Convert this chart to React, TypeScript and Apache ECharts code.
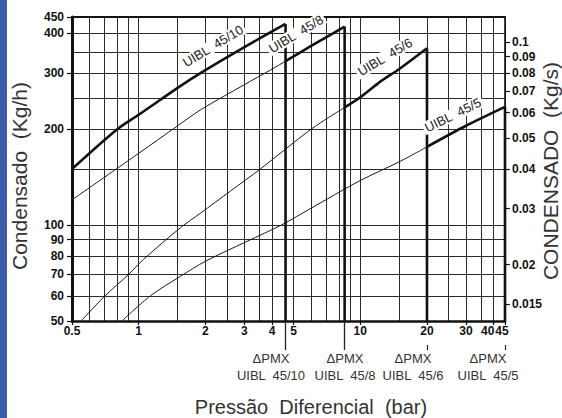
import React, { useEffect, useRef } from "react";
import * as echarts from "echarts";

// ---- axis ranges ----
const xRange = [0.5, 45]; // Pressão diferencial (bar), log
const yRange = [50, 450]; // Condensado (Kg/h), log
const kgsRange = [0.01331, 0.1198]; // Condensado (Kg/s), log (right scale)

// ---- ticks / grid ----
const xTickValues = [0.5, 1, 2, 3, 4, 5, 10, 20, 30, 40, 45];
const xGridValues = [0.5, 0.6, 0.7, 0.8, 0.9, 1, 1.5, 2, 2.5, 3, 3.5, 4, 5, 6, 7, 8, 9, 10, 15, 20, 25, 30, 35, 40, 45];
const yTickValues = [50, 60, 70, 80, 90, 100, 200, 300, 400, 450];
const yGridValues = [50, 60, 70, 80, 90, 100, 150, 200, 250, 300, 350, 400, 450];
const kgsTickValues = [0.015, 0.02, 0.03, 0.04, 0.05, 0.06, 0.07, 0.08, 0.09, 0.1];

// ---- models ----
const models = ["UIBL  45/10", "UIBL  45/8", "UIBL  45/6", "UIBL  45/5"];
const dpmx = [4.6, 8.5, 20, 45];

// ---- curves [bar, Kg/h] ----
const uibl4510Thin: number[][] = [];
const uibl4510Thick = [[0.5, 150], [0.8, 200], [1.0, 222], [1.54, 273], [1.9, 300], [3, 362], [4.6, 428]];
const uibl458Thin = [[0.5, 120], [1.0, 168], [1.5, 205], [1.9, 230], [3, 276], [3.94, 307], [4.6, 327]];
const uibl458Thick = [[4.6, 327], [6, 365], [8.5, 420]];
const uibl456Thin = [[0.55, 50], [0.705, 60], [0.9, 70], [1.05, 78], [1.54, 98], [1.9, 109], [2.6, 128], [3.54, 150], [6, 200], [8.5, 234]];
const uibl456Thick = [[8.5, 234], [10, 252], [12.4, 283], [15, 309], [20, 359]];
const uibl455Thin = [[0.84, 50], [1.13, 60], [1.54, 69], [2, 77], [3.09, 89], [4.4, 100], [6, 113], [10, 138], [15, 158], [20, 176]];
const uibl455Thick = [[20, 176], [30, 205], [45, 235]];

const curves = [
  { thin: uibl4510Thin, thick: uibl4510Thick },
  { thin: uibl458Thin, thick: uibl458Thick },
  { thin: uibl456Thin, thick: uibl456Thick },
  { thin: uibl455Thin, thick: uibl455Thick },
];

const FONT = "'Liberation Sans', Arial, Helvetica, sans-serif";
const lg = Math.log10;
const fmt = (v: number, p = 3) => String(Number(Math.pow(10, v).toPrecision(p)));

export default function App() {
  const ref = useRef<HTMLDivElement>(null);

  useEffect(() => {
    const chart = echarts.init(ref.current!, undefined, { renderer: "svg" });

    const logVal = (range: number[]) => ({ type: "value", min: lg(range[0]), max: lg(range[1]) });
    const tickLabel = { fontSize: 12, fontWeight: "bold", color: "#111", fontFamily: FONT };

    const series: any[] = [];
    curves.forEach((c, i) => {
      if (c.thin.length) {
        series.push({
          type: "line", name: models[i] + " thin", data: c.thin, xAxisIndex: 0, yAxisIndex: 0,
          symbol: "none", smooth: 0.3, silent: true, z: 3,
          lineStyle: { color: "#1a1a1a", width: 1 },
        });
      }
      series.push({
        type: "line", name: models[i], data: c.thick, xAxisIndex: 0, yAxisIndex: 0,
        symbol: "none", smooth: 0.3, silent: true, z: 4,
        lineStyle: { color: "#111", width: 2.6 },
      });
      const peak = c.thick[c.thick.length - 1][1];
      series.push({
        type: "line", name: models[i] + " ΔPMX", data: [[dpmx[i], peak], [dpmx[i], yRange[0]]],
        xAxisIndex: 0, yAxisIndex: 0, symbol: "none", silent: true, z: 4,
        lineStyle: { color: "#111", width: 2.6 },
      });
    });

    const labelText = (text: string, x: number, y: number, deg: number, size: number, fill = "#222", bg?: string) => ({
      type: "text", x, y, rotation: (deg * Math.PI) / 180, silent: true, z: 10,
      style: {
        text, fontSize: size, fontFamily: FONT, fill,
        align: "center", verticalAlign: "middle", textAlign: "center", textVerticalAlign: "middle",
        ...(bg ? { backgroundColor: bg, padding: [0, 2, 0, 2] } : {}),
      },
    });

    const dpmxLabelX = [271, 345, 413, 488];
    const curveLabels = [
      { x: 213, y: 46, deg: 31 },
      { x: 296, y: 34, deg: 31 },
      { x: 385, y: 57, deg: 31 },
      { x: 453, y: 115, deg: 26 },
    ];

    const noZero = { onZero: false };

    const option: any = {
      animation: false,
      backgroundColor: "#ffffff",
      textStyle: { fontFamily: FONT },
      grid: { left: 72, top: 17, width: 433, height: 304, containLabel: false, outerBoundsMode: "none" },
      xAxis: [
        { type: "log", logBase: 10, min: xRange[0], max: xRange[1], show: false, axisLine: { show: false, onZero: false } },
        {
          ...logVal(xRange), position: "bottom",
          axisLine: { show: true, ...noZero, lineStyle: { color: "#111", width: 2.5 } },
          axisTick: { show: true, customValues: xTickValues.map(lg), length: 4, lineStyle: { color: "#111", width: 1.2 } },
          axisLabel: {
            show: true, customValues: xTickValues.map(lg), margin: 4, ...tickLabel,
            formatter: (v: number) => {
              const s = fmt(v);
              if (s === "40") return "{a|40}";
              if (s === "45") return "{b|45}";
              return s;
            },
            rich: { a: { ...tickLabel, padding: [0, 12, 0, 0] }, b: { ...tickLabel, padding: [0, 6, 0, 0] } },
          },
          splitLine: { show: false },
        },
        {
          ...logVal(xRange), position: "top",
          axisLine: { show: true, ...noZero, lineStyle: { color: "#111", width: 2 } },
          axisTick: { show: false, customValues: xGridValues.map(lg) },
          axisLabel: { show: false, customValues: xGridValues.map(lg) },
          splitLine: { show: true, lineStyle: { color: "#2a2a2a", width: 1 } },
        },
        {
          ...logVal(xRange), position: "bottom",
          axisLine: { show: false, ...noZero },
          axisTick: { show: true, customValues: dpmx.slice(0, 2).map(lg), length: 29, lineStyle: { color: "#222", width: 1.3 } },
          axisLabel: { show: false, customValues: dpmx.slice(0, 2).map(lg) },
          splitLine: { show: false },
        },
        {
          ...logVal(xRange), position: "bottom", offset: 24,
          axisLine: { show: false, ...noZero },
          axisTick: { show: true, customValues: dpmx.slice(2).map(lg), length: 5, lineStyle: { color: "#222", width: 1.2 } },
          axisLabel: { show: false, customValues: dpmx.slice(2).map(lg) },
          splitLine: { show: false },
        },
      ],
      yAxis: [
        { type: "log", logBase: 10, min: yRange[0], max: yRange[1], show: false, axisLine: { show: false, onZero: false } },
        {
          ...logVal(yRange), position: "left",
          axisLine: { show: true, ...noZero, lineStyle: { color: "#111", width: 3 } },
          axisTick: { show: true, customValues: yTickValues.map(lg), length: 5, lineStyle: { color: "#111", width: 1.2 } },
          axisLabel: { show: true, customValues: yTickValues.map(lg), margin: 8, ...tickLabel, formatter: (v: number) => fmt(v) },
          splitLine: { show: false },
        },
        {
          ...logVal(yRange), position: "left",
          axisLine: { show: false, ...noZero },
          axisTick: { show: false, customValues: yGridValues.map(lg) },
          axisLabel: { show: false, customValues: yGridValues.map(lg) },
          splitLine: { show: true, lineStyle: { color: "#2a2a2a", width: 1 } },
        },
        {
          ...logVal(kgsRange), position: "right",
          axisLine: { show: true, ...noZero, lineStyle: { color: "#111", width: 1.6 } },
          axisTick: { show: true, customValues: kgsTickValues.map(lg), length: 5, lineStyle: { color: "#111", width: 1.2 } },
          axisLabel: { show: true, customValues: kgsTickValues.map(lg), margin: 7, ...tickLabel, formatter: (v: number) => fmt(v, 2) },
          splitLine: { show: false },
        },
      ],
      series,
      graphic: [
        { type: "rect", shape: { x: 0, y: 0, width: 7, height: 418 }, style: { fill: "#3a5ba9" }, silent: true },
        labelText("Condensado  (Kg/h)", 19.5, 176, 90, 21, "#333"),
        labelText("CONDENSADO  (Kg/s)", 550, 171, 90, 21, "#333"),
        labelText("Pressão  Diferencial  (bar)", 311, 407, 0, 20, "#333"),
        ...curveLabels.map((l, i) => labelText(models[i], l.x, l.y, l.deg, 13, "#222", "#ffffff")),
        ...dpmxLabelX.map((x, i) => ({
          type: "text", x, y: 366.5, silent: true, z: 10,
          style: {
            text: "ΔPMX\n" + models[i], fontSize: 13, fontFamily: FONT, fill: "#333", lineHeight: 17,
            align: "center", verticalAlign: "middle", textAlign: "center", textVerticalAlign: "middle",
          },
        })),
      ],
    };

    chart.setOption(option);
    return () => chart.dispose();
  }, []);

  return (
    <div
      ref={ref}
      style={{ position: "fixed", left: 0, top: 0, width: 562, height: 418, background: "#fff" }}
    />
  );
}
